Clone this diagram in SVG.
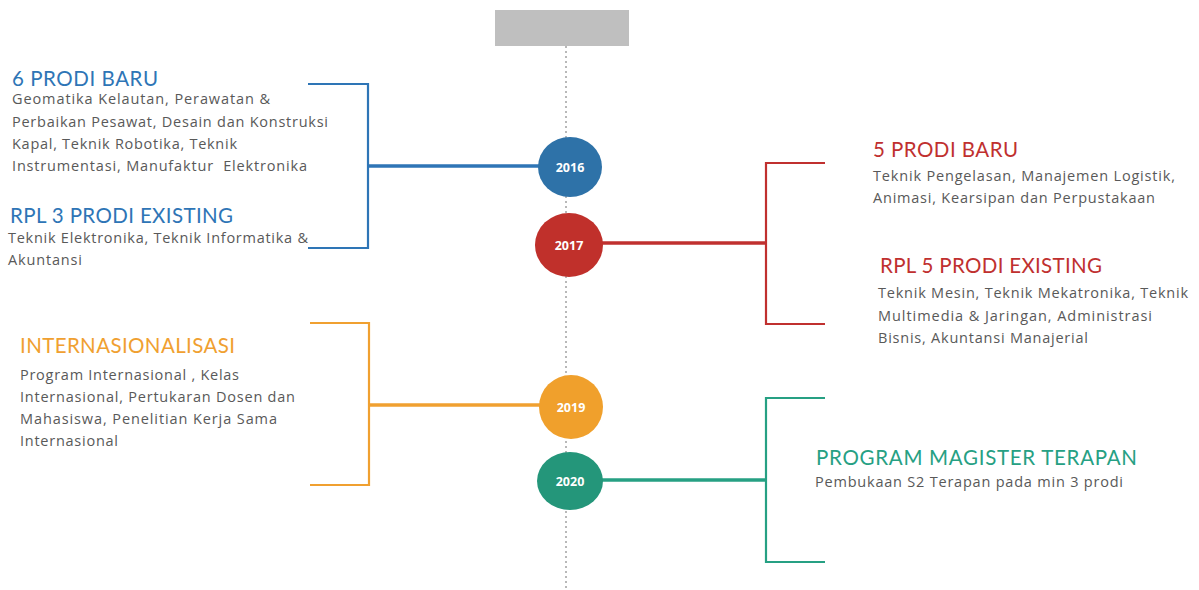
<svg xmlns="http://www.w3.org/2000/svg" width="1199" height="590" viewBox="0 0 1199 590">
<style>
.h{font-family:Lato,"Open Sans","Liberation Sans",sans-serif;font-size:20.5px}
.b{font-family:"Open Sans",Lato,"Liberation Sans",sans-serif;font-size:14.5px;fill:#595959;white-space:pre}
.y{font-family:"Open Sans",Lato,"Liberation Sans",sans-serif;font-size:12.5px;font-weight:bold;fill:#ffffff;text-anchor:middle}
.br{fill:none;stroke-width:2.2}
.ln{fill:none;stroke-width:3.5}
</style>
<rect width="1199" height="590" fill="#ffffff"/>
<g id="header"><rect x="495" y="10" width="134" height="36" fill="#bfbfbf"/></g>
<g id="connectors">
<line x1="566" y1="46" x2="566" y2="590" stroke="#b8b8b8" stroke-width="2" stroke-dasharray="2 3"/>
<polyline class="br" stroke="#2e75b6" points="308,84 368,84 368,248 308,248"/>
<line class="ln" stroke="#2e75b6" x1="368" y1="166" x2="540" y2="166"/>
<polyline class="br" stroke="#c0302f" points="825,163 766,163 766,324 825,324"/>
<line class="ln" stroke="#c0302f" x1="601" y1="243" x2="766" y2="243"/>
<polyline class="br" stroke="#f0a030" points="310,323 369,323 369,485 310,485"/>
<line class="ln" stroke="#f0a030" x1="369" y1="405" x2="541" y2="405"/>
<polyline class="br" stroke="#26a083" points="825,398 766,398 766,562 825,562"/>
<line class="ln" stroke="#26a083" x1="601" y1="480" x2="766" y2="480"/>
</g>
<g id="y2016"><ellipse cx="570" cy="167" rx="32" ry="30" fill="#2e72a8"/><text class="y" x="570" y="172">2016</text></g>
<g id="y2017"><ellipse cx="569" cy="245" rx="34" ry="32" fill="#c0302b"/><text class="y" x="569" y="250">2017</text></g>
<g id="y2019"><ellipse cx="571" cy="407" rx="32" ry="32" fill="#f0a02c"/><text class="y" x="571" y="412">2019</text></g>
<g id="y2020"><ellipse cx="570" cy="481" rx="33" ry="29" fill="#24967a"/><text class="y" x="570" y="486">2020</text></g>
<g id="n-6prodi">
<text class="h" x="12" y="86" fill="#2e75b6" textLength="146">6 PRODI BARU</text>
<text class="b" x="12" y="104" textLength="258">Geomatika Kelautan, Perawatan &amp;</text>
<text class="b" x="12" y="127" textLength="316">Perbaikan Pesawat, Desain dan Konstruksi</text>
<text class="b" x="12" y="149" textLength="225">Kapal, Teknik Robotika, Teknik</text>
<text class="b" x="12" y="171" textLength="295" xml:space="preserve">Instrumentasi, Manufaktur  Elektronika</text>
</g>
<g id="n-rpl3">
<text class="h" x="10" y="223" fill="#2e75b6" textLength="223">RPL 3 PRODI EXISTING</text>
<text class="b" x="8" y="243" textLength="300">Teknik Elektronika, Teknik Informatika &amp;</text>
<text class="b" x="8" y="265" textLength="74">Akuntansi</text>
</g>
<g id="n-5prodi">
<text class="h" x="873" y="157" fill="#c0302f" textLength="145">5 PRODI BARU</text>
<text class="b" x="873" y="181" textLength="302">Teknik Pengelasan, Manajemen Logistik,</text>
<text class="b" x="873" y="203" textLength="282">Animasi, Kearsipan dan Perpustakaan</text>
</g>
<g id="n-rpl5">
<text class="h" x="880" y="273" fill="#c0302f" textLength="222">RPL 5 PRODI EXISTING</text>
<text class="b" x="878" y="298" textLength="310">Teknik Mesin, Teknik Mekatronika, Teknik</text>
<text class="b" x="878" y="321" textLength="274">Multimedia &amp; Jaringan, Administrasi</text>
<text class="b" x="878" y="343" textLength="210">Bisnis, Akuntansi Manajerial</text>
</g>
<g id="n-intl">
<text class="h" x="20" y="353" fill="#f0a030" textLength="215">INTERNASIONALISASI</text>
<text class="b" x="20" y="380" textLength="219">Program Internasional , Kelas</text>
<text class="b" x="20" y="402" textLength="275">Internasional, Pertukaran Dosen dan</text>
<text class="b" x="20" y="424" textLength="257">Mahasiswa, Penelitian Kerja Sama</text>
<text class="b" x="20" y="446" textLength="98">Internasional</text>
</g>
<g id="n-magister">
<text class="h" x="816" y="465" fill="#26a083" textLength="321">PROGRAM MAGISTER TERAPAN</text>
<text class="b" x="815" y="487" textLength="308">Pembukaan S2 Terapan pada min 3 prodi</text>
</g>
</svg>
